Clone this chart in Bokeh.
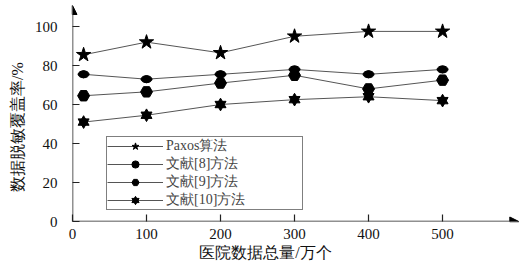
from bokeh.plotting import figure
from bokeh.models import Range1d, Legend, LegendItem, Arrow, NormalHead, FixedTicker
from bokeh.embed import file_html
from bokeh.resources import INLINE

x_vals = [15, 100, 200, 300, 400, 500]
paxos = [85.5, 92, 86.5, 95, 97.5, 97.5]
ref8 = [75.5, 73, 75.5, 78, 75.5, 78]
ref9 = [64.5, 66.5, 71, 75, 68, 72.5]
ref10 = [51, 54.5, 60, 62.5, 64, 62]
series_names = ["Paxos算法", "文献[8]方法", "文献[9]方法", "文献[10]方法"]
x_ticks = [0, 100, 200, 300, 400, 500]
y_ticks = [0, 20, 40, 60, 80, 100]
x_title = "医院数据总量/万个"
y_title = "数据脱敏覆盖率/%"

FONT = "'Liberation Serif', 'Noto Serif CJK SC', 'Noto Sans CJK SC', serif"
NBSP = "\u00a0"

p = figure(width=525, height=264, output_backend="svg", toolbar_location=None,
           x_range=Range1d(0, 608), y_range=Range1d(0, 111.3),
           min_border_left=72, min_border_right=3, min_border_top=4, min_border_bottom=43)
p.outline_line_color = None
p.grid.visible = False
p.background_fill_color = "white"

for ax, ticks in ((p.xaxis, x_ticks), (p.yaxis, y_ticks)):
    ax.ticker = FixedTicker(ticks=ticks)
    ax.major_tick_in = 7
    ax.major_tick_out = 0
    ax.minor_tick_line_color = None
    ax.axis_line_color = None
    ax.major_tick_line_color = "#222222"
    ax.major_tick_line_width = 1.2
    ax.major_label_text_font = FONT
    ax.major_label_text_font_size = "15px"
    ax.major_label_text_color = "#111111"
    ax.axis_label_text_font = "Liberation Serif"
    ax.axis_label_text_font_size = "16px"
    ax.axis_label_text_font_style = "normal"
    ax.axis_label_text_color = "#111111"
p.xaxis.major_label_standoff = 7
p.yaxis.major_label_standoff = 15
p.xaxis.axis_label = x_title + NBSP * 16
p.xaxis.axis_label_standoff = 2
p.yaxis.axis_label = y_title + NBSP * 7
p.yaxis.axis_label_standoff = 6

line_kw = dict(line_color="#555555", line_width=1)

l1 = p.line(x_vals, paxos, **line_kw)
m1 = p.scatter(x_vals, paxos, marker="star", size=15, color="black")

l2 = p.line(x_vals, ref8, **line_kw)
m2 = p.scatter(x_vals, ref8, marker="circle", size=7, color="black")
p.ellipse(x=x_vals, y=ref8, width=11, height=7, width_units="screen",
          height_units="screen", color="black")

l3 = p.line(x_vals, ref9, **line_kw)
m3 = p.scatter(x_vals, ref9, marker="hex", size=12, color="black")

l4 = p.line(x_vals, ref10, **line_kw)
m4a = p.scatter(x_vals, ref10, marker="triangle", size=11, color="black")
m4b = p.scatter(x_vals, ref10, marker="inverted_triangle", size=11, color="black")

p.add_layout(Arrow(end=NormalHead(size=9, fill_color="black", line_color="black"),
                   x_start=0, y_start=0, x_end=603, y_end=0,
                   line_width=1.5, line_color="#222222"))
p.add_layout(Arrow(end=NormalHead(size=9, fill_color="black", line_color="black"),
                   x_start=0, y_start=0, x_end=0, y_end=110.8,
                   line_width=1.5, line_color="#222222"))

legend = Legend(items=[
    LegendItem(label=series_names[0], renderers=[l1, m1]),
    LegendItem(label=series_names[1], renderers=[l2, m2]),
    LegendItem(label=series_names[2], renderers=[l3, m3]),
    LegendItem(label=series_names[3], renderers=[l4, m4a, m4b]),
], location=(34, 11), border_line_color="black", border_line_width=1.5,
    background_fill_alpha=1, label_text_font="Liberation Serif",
    label_text_font_size="14px", label_text_line_height=1.0,
    glyph_width=56, glyph_height=18, label_height=16, spacing=0, padding=0,
    margin=0, label_standoff=3, label_width=136)
p.add_layout(legend)

open("out.html", "w").write(file_html(p, INLINE))
